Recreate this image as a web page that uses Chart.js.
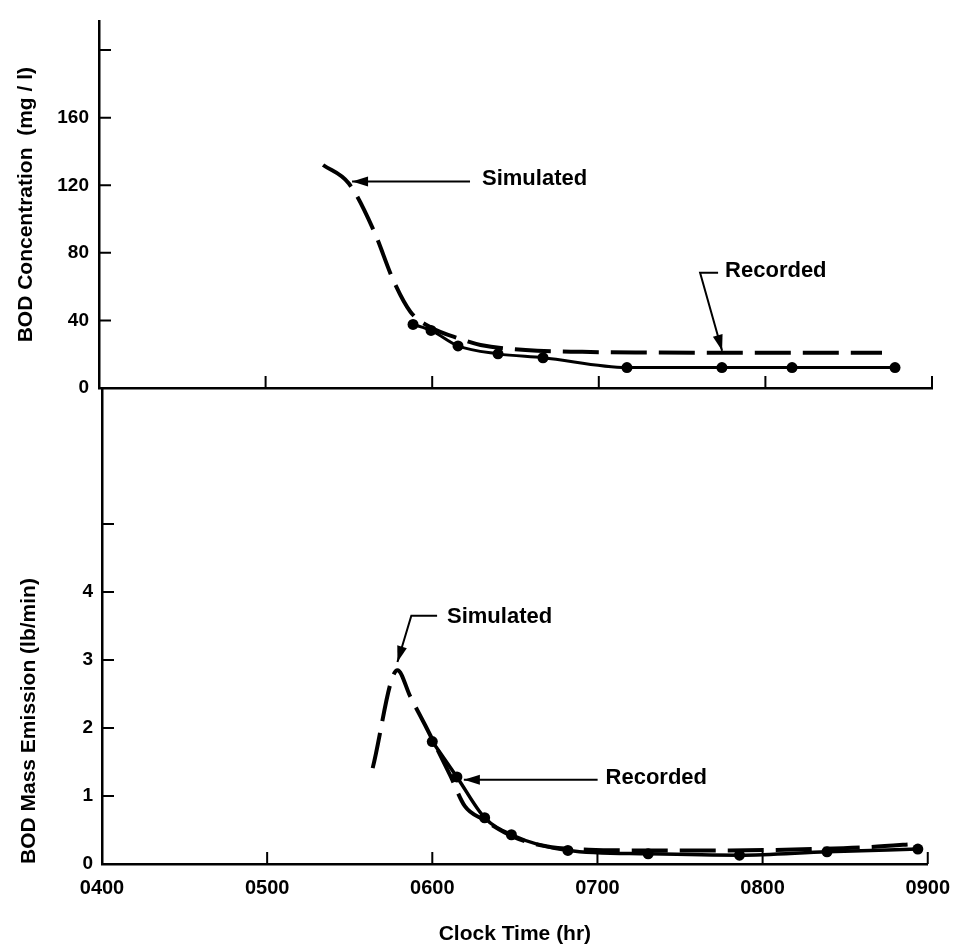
<!DOCTYPE html>
<html>
<head>
<meta charset="utf-8">
<title>BOD Concentration and Mass Emission</title>
<script src="https://cdn.jsdelivr.net/npm/chart.js@4.4.0/dist/chart.umd.min.js"></script>
<style>
    body { margin: 0; background: #fff; }
    #wrap { position: relative; width: 962px; height: 951px; }
    #wrap canvas { position: absolute; left: 0; top: 0; }
</style>
</head>
<body>
<div id="wrap">
    <canvas id="concChart" width="962" height="951"></canvas>
    <canvas id="massChart" width="962" height="951"></canvas>
</div>
<script>
// clock time in hours (4 = 0400 ... 9 = 0900)
const timeTicks = [4, 5, 6, 7, 8, 9];
const timeTickLabels = ["0400", "0500", "0600", "0700", "0800", "0900"];

// upper panel: BOD concentration (mg/l)
const concTicks = [0, 40, 80, 120, 160, 200];
const concTickLabels = ["0", "40", "80", "120", "160", ""];
const concSimTime = [5.345, 5.5, 5.65, 5.77, 5.87, 5.99, 6.17, 6.29, 6.56, 6.9, 7.3, 8.0, 8.7];
const concSimValue = [132, 121, 93, 63, 45, 36, 29, 25.5, 22.5, 21.4, 21, 20.8, 20.8];
const concRecTime = [5.885, 5.993, 6.155, 6.395, 6.665, 7.169, 7.739, 8.16, 8.778];
const concRecValue = [37.6, 34.1, 24.9, 20.2, 17.9, 12.1, 12.1, 12.1, 12.1];

// lower panel: BOD mass emission (lb/min)
const massTicks = [0, 1, 2, 3, 4, 5];
const massTickLabels = ["0", "1", "2", "3", "4", ""];
const massSimTime = [5.639, 5.789, 5.867, 5.957, 6.107, 6.197, 6.311, 6.491, 6.689, 6.947, 7.3, 7.8, 8.3, 8.65, 8.95];
const massSimValue = [1.41, 2.85, 2.46, 2.04, 1.31, 0.85, 0.65, 0.4, 0.26, 0.21, 0.2, 0.2, 0.22, 0.25, 0.3];
const massRecTime = [6.0, 6.149, 6.317, 6.479, 6.821, 7.307, 7.86, 8.39, 8.94];
const massRecValue = [1.8, 1.28, 0.68, 0.43, 0.2, 0.15, 0.13, 0.18, 0.22];

Chart.defaults.font.family = '"Liberation Sans", Arial, sans-serif';
Chart.defaults.font.weight = "bold";
Chart.defaults.color = "#000";

function toPoints(times, values) {
    return times.map((t, i) => ({ x: t, y: values[i] }));
}

// tick marks drawn inside the plot, like the original figure
const innerTicks = {
    id: "innerTicks",
    afterDraw(chart) {
        const { ctx, chartArea, scales: { x, y } } = chart;
        ctx.save();
        ctx.strokeStyle = "#000";
        ctx.lineWidth = 2;
        ctx.beginPath();
        x.ticks.forEach((t) => {
            if (t.value === x.min) return;
            const px = x.getPixelForValue(t.value);
            ctx.moveTo(px, chartArea.bottom);
            ctx.lineTo(px, chartArea.bottom - 12);
        });
        y.ticks.forEach((t) => {
            if (t.value === y.min) return;
            const py = y.getPixelForValue(t.value);
            ctx.moveTo(chartArea.left, py);
            ctx.lineTo(chartArea.left + 12, py);
        });
        ctx.stroke();
        ctx.restore();
    },
};

// "Simulated" / "Recorded" labels with leader arrows
const callouts = {
    id: "callouts",
    afterDatasetsDraw(chart, args, opts) {
        const { ctx, scales: { x, y } } = chart;
        ctx.save();
        ctx.strokeStyle = "#000";
        ctx.fillStyle = "#000";
        ctx.lineWidth = 2;
        opts.items.forEach((item) => {
            const pts = item.path.map((p) => [x.getPixelForValue(p[0]), y.getPixelForValue(p[1])]);
            ctx.beginPath();
            pts.forEach((p, i) => (i ? ctx.lineTo(p[0], p[1]) : ctx.moveTo(p[0], p[1])));
            ctx.stroke();

            // arrow head at the end of the leader
            const a = pts[pts.length - 2];
            const b = pts[pts.length - 1];
            const len = Math.hypot(b[0] - a[0], b[1] - a[1]);
            const ux = (b[0] - a[0]) / len;
            const uy = (b[1] - a[1]) / len;
            ctx.beginPath();
            ctx.moveTo(b[0], b[1]);
            ctx.lineTo(b[0] - 16 * ux - 5 * uy, b[1] - 16 * uy + 5 * ux);
            ctx.lineTo(b[0] - 16 * ux + 5 * uy, b[1] - 16 * uy - 5 * ux);
            ctx.closePath();
            ctx.fill();

            ctx.font = 'bold 22px "Liberation Sans", Arial, sans-serif';
            ctx.textAlign = "left";
            ctx.textBaseline = "middle";
            ctx.fillText(item.text, x.getPixelForValue(item.at[0]), y.getPixelForValue(item.at[1]));
        });
        ctx.restore();
    },
};

const axisBorder = { display: true, color: "#000", width: 2.5 };
const noGrid = { display: false, drawTicks: false };

// upper panel
new Chart(document.getElementById("concChart"), {
    type: "line",
    data: {
        datasets: [
            {
                label: "Simulated",
                data: toPoints(concSimTime, concSimValue),
                borderColor: "#000",
                borderWidth: 4,
                borderDash: [36, 12],
                pointRadius: 0,
                cubicInterpolationMode: "monotone",
            },
            {
                label: "Recorded",
                data: toPoints(concRecTime, concRecValue),
                borderColor: "#000",
                borderWidth: 3,
                pointRadius: 5.5,
                pointBackgroundColor: "#000",
                pointBorderWidth: 0,
                cubicInterpolationMode: "monotone",
            },
        ],
    },
    options: {
        responsive: false,
        animation: false,
        events: [],
        layout: { autoPadding: false, padding: { left: 0, top: 13, right: 30, bottom: 563 } },
        plugins: {
            legend: { display: false },
            tooltip: { enabled: false },
            callouts: {
                items: [
                    { text: "Simulated", at: [6.299, 123.7], path: [[6.227, 122.3], [5.519, 122.3]] },
                    { text: "Recorded", at: [7.758, 69.4], path: [[7.716, 68.2], [7.608, 68.2], [7.74, 22]] },
                ],
            },
        },
        scales: {
            x: {
                type: "linear",
                min: 4,
                max: 9,
                afterBuildTicks: (s) => { s.ticks = timeTicks.map((v) => ({ value: v })); },
                afterFit: (s) => { s.height = 0; },
                ticks: { display: false },
                grid: noGrid,
                border: axisBorder,
            },
            y: {
                min: 0,
                max: 217,
                afterBuildTicks: (s) => { s.ticks = concTicks.map((v) => ({ value: v })); },
                afterFit: (s) => { s.width = 99; },
                ticks: {
                    padding: 10,
                    font: { size: 19 },
                    callback: (v) => concTickLabels[concTicks.indexOf(v)],
                },
                grid: noGrid,
                border: axisBorder,
                title: {
                    display: true,
                    text: "BOD Concentration  (mg / l)",
                    font: { size: 21 },
                    padding: { top: 14, bottom: 0 },
                },
            },
        },
    },
    plugins: [innerTicks, callouts],
});

// lower panel
new Chart(document.getElementById("massChart"), {
    type: "line",
    data: {
        datasets: [
            {
                label: "Simulated",
                data: toPoints(massSimTime, massSimValue),
                borderColor: "#000",
                borderWidth: 4,
                borderDash: [36, 12],
                pointRadius: 0,
                cubicInterpolationMode: "monotone",
            },
            {
                label: "Recorded",
                data: toPoints(massRecTime, massRecValue),
                borderColor: "#000",
                borderWidth: 3.5,
                pointRadius: 5.5,
                pointBackgroundColor: "#000",
                pointBorderWidth: 0,
                cubicInterpolationMode: "monotone",
            },
        ],
    },
    options: {
        responsive: false,
        animation: false,
        events: [],
        layout: { autoPadding: false, padding: { left: 0, top: 388, right: 27, bottom: 0 } },
        plugins: {
            legend: { display: false },
            tooltip: { enabled: false },
            callouts: {
                items: [
                    { text: "Simulated", at: [6.089, 3.63], path: [[6.029, 3.65], [5.873, 3.65], [5.789, 2.97]] },
                    { text: "Recorded", at: [7.049, 1.26], path: [[7.001, 1.24], [6.191, 1.24]] },
                ],
            },
        },
        scales: {
            x: {
                type: "linear",
                min: 4,
                max: 9,
                afterBuildTicks: (s) => { s.ticks = timeTicks.map((v) => ({ value: v })); },
                afterFit: (s) => { s.height = 87; },
                ticks: {
                    padding: 12,
                    font: { size: 20 },
                    maxRotation: 0,
                    callback: (v) => timeTickLabels[timeTicks.indexOf(v)],
                },
                grid: noGrid,
                border: axisBorder,
                title: {
                    display: true,
                    text: "Clock Time (hr)",
                    font: { size: 21 },
                    padding: { top: 0, bottom: 4 },
                },
            },
            y: {
                min: 0,
                max: 7,
                afterBuildTicks: (s) => { s.ticks = massTicks.map((v) => ({ value: v })); },
                afterFit: (s) => { s.width = 102; },
                ticks: {
                    padding: 9,
                    font: { size: 19 },
                    callback: (v) => massTickLabels[massTicks.indexOf(v)],
                },
                grid: noGrid,
                border: axisBorder,
                title: {
                    display: true,
                    text: "BOD Mass Emission (lb/min)",
                    align: "start",
                    font: { size: 21 },
                    padding: { top: 17, bottom: 0 },
                },
            },
        },
    },
    plugins: [innerTicks, callouts],
});
</script>
</body>
</html>
